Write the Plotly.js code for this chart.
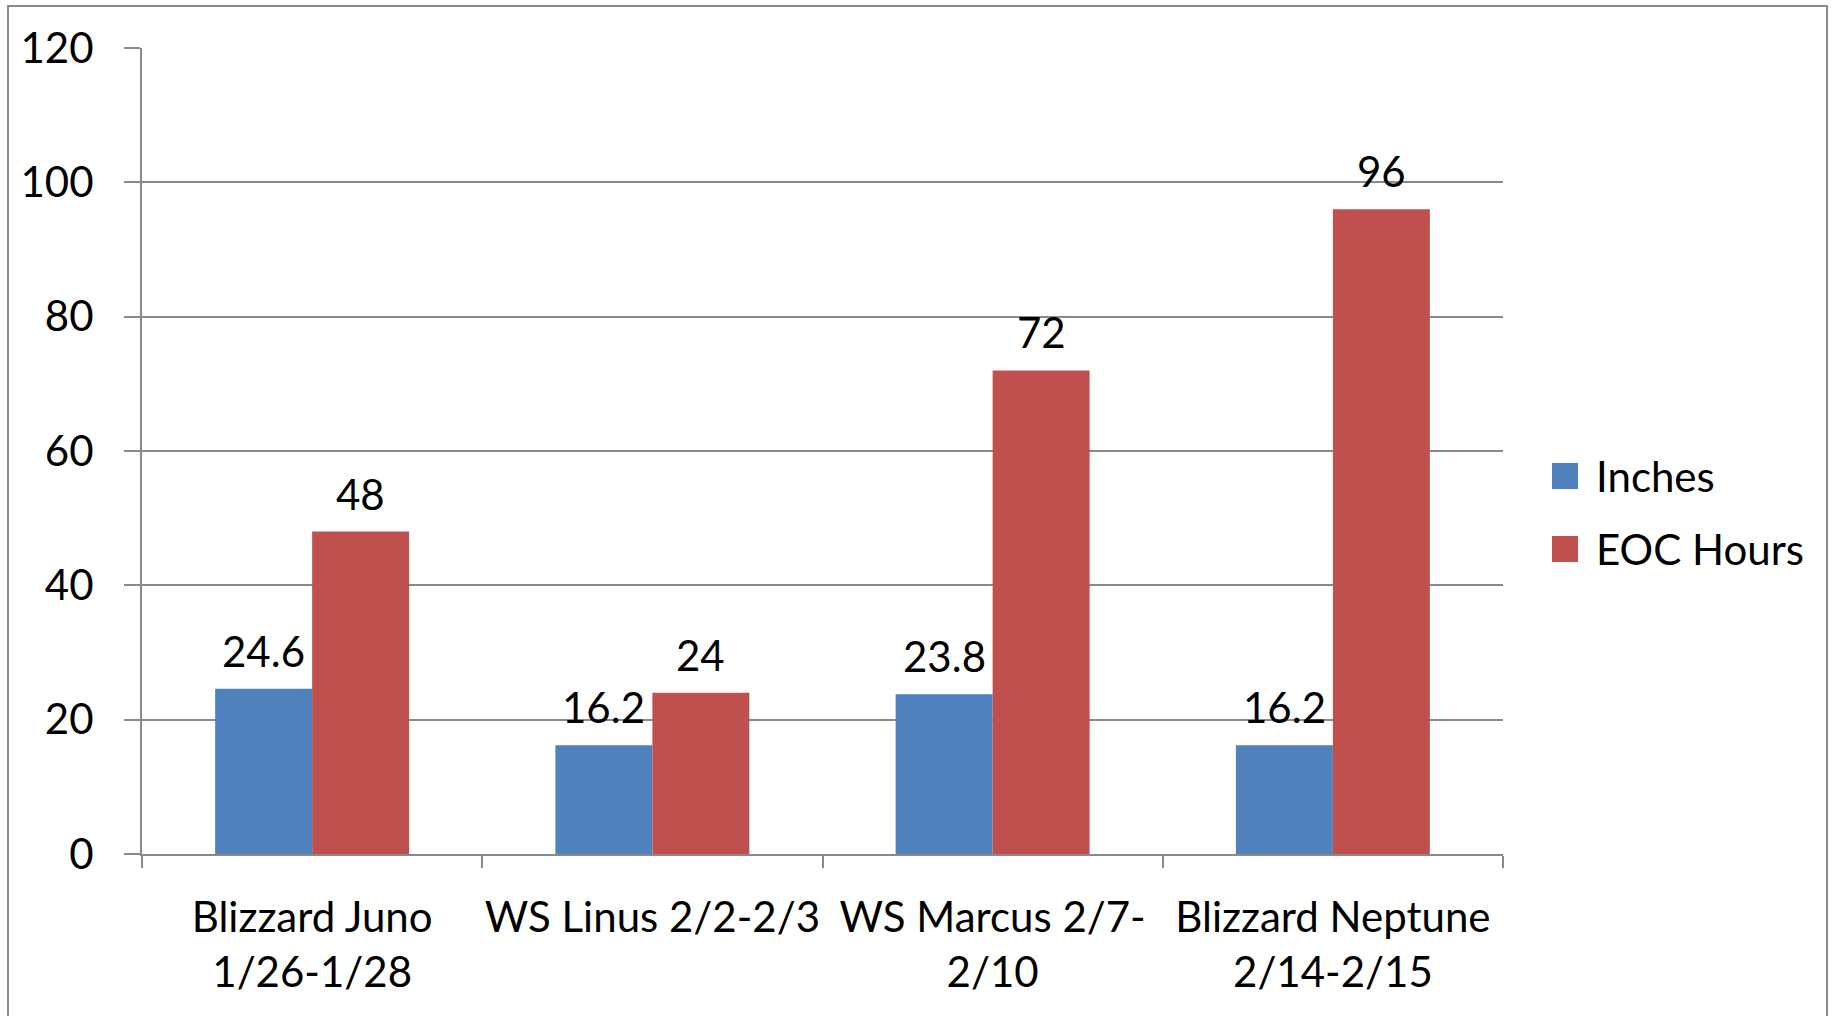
<!DOCTYPE html>
<html>
<head>
<meta charset="utf-8">
<script src="https://cdn.plot.ly/plotly-3.0.1.min.js"></script>
<style>
  html, body { margin: 0; padding: 0; background: #fff; overflow: hidden; }
  #chart { width: 1833px; height: 1016px; }
  #frame { position: absolute; left: 7px; top: 5px; width: 1817px; height: 1100px;
           border: 2px solid #8a8a8a; pointer-events: none; }
</style>
</head>
<body>
<div id="chart"></div>
<div id="frame"></div>
<script>
const categories = ["Blizzard Juno 1/26-1/28", "WS Linus 2/2-2/3", "WS Marcus 2/7-2/10", "Blizzard Neptune 2/14-2/15"];
const tickLabels = ["Blizzard Juno<br>1/26-1/28", "WS Linus 2/2-2/3", "WS Marcus 2/7-<br>2/10", "Blizzard Neptune<br>2/14-2/15"];
const inches = [24.6, 16.2, 23.8, 16.2];
const eocHours = [48, 24, 72, 96];
const seriesNames = ["Inches", "EOC Hours"];
const seriesColors = ["#4F81BD", "#C0504D"];
const yTicks = [0, 20, 40, 60, 80, 100, 120];

const FONT = "Lato, 'Open Sans', sans-serif";
const FS = 42;
const W = 1833, H = 1016;
const margin = { l: 142, r: 330, t: 48, b: 162, pad: 0 };
const bargap = 0.43;
const plotW = W - margin.l - margin.r;
const plotH = H - margin.t - margin.b;

const traces = [
  { type: "bar", name: seriesNames[0], x: categories, y: inches,
    marker: { color: seriesColors[0] }, hoverinfo: "y" },
  { type: "bar", name: seriesNames[1], x: categories, y: eocHours,
    marker: { color: seriesColors[1] }, hoverinfo: "y" }
];

// data labels above each bar
const barW = plotW / categories.length * (1 - bargap) / 2;
const annotations = [];
[inches, eocHours].forEach((vals, s) => {
  vals.forEach((v, i) => {
    annotations.push({
      x: categories[i], y: v, xref: "x", yref: "y",
      text: String(v), showarrow: false,
      xshift: (s === 0 ? -1 : 1) * barW / 2,
      yanchor: "bottom", yshift: 11,
      font: { family: FONT, size: FS, color: "#000" }
    });
  });
});

// legend (drawn as swatches + text, Excel style)
const px2x = p => (p - margin.l) / plotW;
const py2y = p => (H - margin.b - p) / plotH;
const legendRows = [476, 549];
const shapes = [];
seriesNames.forEach((name, k) => {
  const cy = legendRows[k];
  shapes.push({
    type: "rect", xref: "paper", yref: "paper",
    x0: px2x(1552), x1: px2x(1578), y0: py2y(cy + 13), y1: py2y(cy - 13),
    fillcolor: seriesColors[k], line: { width: 0 }
  });
  annotations.push({
    xref: "paper", yref: "paper", x: px2x(1594), y: py2y(cy),
    xanchor: "left", yanchor: "middle", text: name, showarrow: false,
    font: { family: FONT, size: FS, color: "#000" }
  });
});

const layout = {
  width: W, height: H,
  margin: margin,
  paper_bgcolor: "#fff", plot_bgcolor: "#fff",
  barmode: "group", bargap: bargap, bargroupgap: 0,
  font: { family: FONT, size: FS, color: "#000" },
  showlegend: false,
  xaxis: {
    type: "category",
    tickmode: "array", tickvals: categories, ticktext: tickLabels,
    tickangle: 0, automargin: false,
    tickson: "boundaries", ticks: "outside", ticklen: 12, tickwidth: 2, tickcolor: "#8a8a8a",
    showline: true, linecolor: "#8a8a8a", linewidth: 2,
    showgrid: false, ticklabelstandoff: 26,
    tickfont: { family: FONT, size: FS, color: "#000" },
    fixedrange: true
  },
  yaxis: {
    range: [0, 120], tickmode: "array", tickvals: yTicks,
    ticks: "outside", ticklen: 16, tickwidth: 2, tickcolor: "#8a8a8a",
    showline: true, linecolor: "#8a8a8a", linewidth: 2,
    showgrid: true, gridcolor: "#8a8a8a", gridwidth: 2,
    zeroline: false, ticklabelstandoff: 22,
    tickfont: { family: FONT, size: FS, color: "#000" },
    fixedrange: true
  },
  shapes: shapes,
  annotations: annotations
};

Plotly.newPlot("chart", traces, layout, { displayModeBar: false, staticPlot: true });
</script>
</body>
</html>
